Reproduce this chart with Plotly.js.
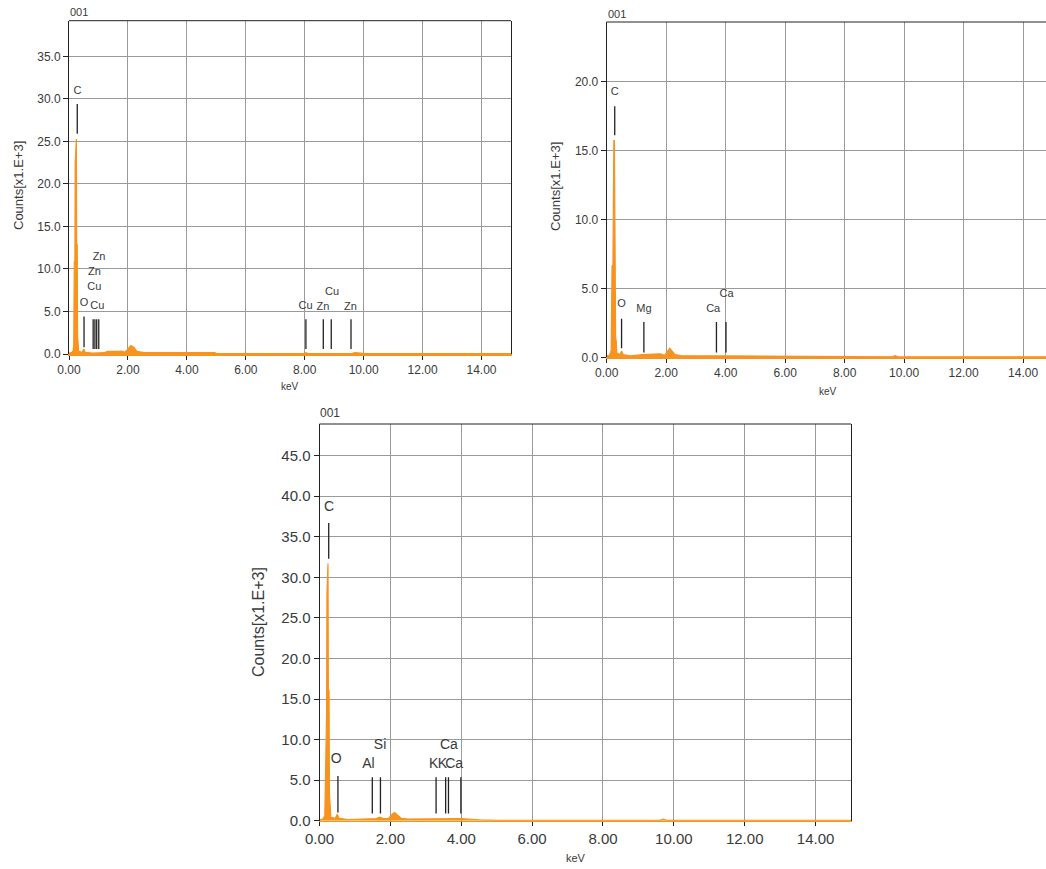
<!DOCTYPE html>
<html>
<head>
<meta charset="utf-8">
<script src="https://cdn.plot.ly/plotly-3.0.1.min.js"></script>
<style>html,body{margin:0;padding:0;background:#fff;overflow:hidden}#chart{width:1046px;height:869px}</style>
</head>
<body>
<div id="chart"></div>
<script>
// ---------- Spectrum 1 (top-left) ----------
const keV1 = [0.00,0.10,0.14,0.16,0.18,0.20,0.21,0.23,0.25,0.26,0.28,0.29,0.31,0.33,0.45,0.50,0.55,0.80,1.20,1.30,1.60,1.80,1.90,2.00,2.10,2.20,2.30,2.50,4.00,4.95,5.00,8.00,8.05,8.10,9.60,9.70,9.90,10.00,15.00];
const cnt1 = [0.10,0.20,0.40,1.00,10.8,11.0,22.5,25.3,25.3,13.0,12.8,2.20,1.50,0.30,0.20,0.60,0.20,0.10,0.15,0.30,0.30,0.35,0.20,0.60,1.00,0.80,0.30,0.20,0.20,0.15,0.05,0.05,0.15,0.05,0.05,0.15,0.10,0.05,0.05];
const lineE1   = [0.28,0.51,0.82,0.88,0.94,1.01,8.04,8.63,8.90,9.57];
const lineTop1 = [29.4,4.4,4.1,4.1,4.1,4.1,4.1,4.1,4.1,4.1];
const lineBot1 = [25.9,0.8,0.6,0.6,0.6,0.6,0.6,0.6,0.6,0.6];
const lab1 = ["C","O","Cu","Cu","Zn","Zn","Cu","Zn","Cu","Zn"];
const labX1 = [0.29,0.51,0.96,0.86,0.86,1.02,8.03,8.62,8.93,9.55];
const labY1 = [30.9,6.0,5.6,7.8,9.6,11.4,5.6,5.5,7.3,5.5];

// ---------- Spectrum 2 (top-right) ----------
const keV2 = [0.00,0.10,0.15,0.18,0.21,0.22,0.24,0.26,0.27,0.29,0.30,0.32,0.34,0.45,0.50,0.55,0.80,1.20,1.80,1.95,2.05,2.12,2.20,2.30,2.50,4.80,5.00,5.50,9.60,9.70,9.80,15.00];
const cnt2 = [0.10,0.15,0.50,6.6,6.7,14.0,15.7,15.7,7.9,7.8,1.4,1.2,0.30,0.20,0.45,0.20,0.10,0.20,0.25,0.15,0.50,0.65,0.45,0.20,0.12,0.10,0.06,0.04,0.04,0.12,0.04,0.04];
const lineE2   = [0.27,0.50,1.25,3.69,4.01];
const lineTop2 = [18.2,2.8,2.55,2.55,2.55];
const lineBot2 = [16.1,0.65,0.35,0.35,0.35];
const lab2 = ["C","O","Mg","Ca","Ca"];
const labX2 = [0.27,0.50,1.25,3.58,4.03];
const labY2 = [19.2,3.86,3.5,3.5,4.6];

// ---------- Spectrum 3 (bottom) ----------
const keV3 = [0.00,0.10,0.15,0.18,0.20,0.21,0.23,0.24,0.25,0.27,0.28,0.30,0.32,0.45,0.50,0.55,0.80,1.60,1.70,1.80,1.95,2.05,2.12,2.20,2.30,2.50,4.00,4.50,4.80,5.00,9.60,9.70,9.80,15.00];
const cnt3 = [0.10,0.20,0.60,13.3,13.3,28.0,31.7,31.7,16.0,16.0,3.4,1.9,0.40,0.30,0.80,0.30,0.15,0.25,0.45,0.25,0.30,0.80,1.00,0.70,0.30,0.20,0.25,0.12,0.08,0.05,0.05,0.20,0.05,0.05];
const lineE3   = [0.26,0.52,1.49,1.72,3.29,3.56,3.64,3.99];
const lineTop3 = [36.7,5.5,5.35,5.35,5.35,5.35,5.35,5.35];
const lineBot3 = [32.3,1.0,0.9,0.9,0.9,0.9,0.9,0.9];
const lab3 = ["C","O","Al","Si","K","K","Ca","Ca"];
const labX3 = [0.27,0.47,1.38,1.71,3.22,3.47,3.80,3.65];
const labY3 = [38.6,7.5,6.95,9.3,6.95,6.95,6.95,9.25];

const ORANGE = '#F7931E';
const FONT = 'Liberation Sans, Arial, sans-serif';
const TXT = '#3a3a3a';

function spectrum(x, y, xa, ya) {
  return {x:x, y:y, xaxis:xa, yaxis:ya, type:'scatter', mode:'lines',
    line:{color:ORANGE, width:1.2}, fill:'tozeroy', fillcolor:ORANGE, hoverinfo:'skip', showlegend:false};
}
function markers(E, top, bot, xa, ya) {
  const xs = [], ys = [];
  for (let i = 0; i < E.length; i++) { xs.push(E[i], E[i], null); ys.push(bot[i], top[i], null); }
  return {x:xs, y:ys, xaxis:xa, yaxis:ya, type:'scatter', mode:'lines',
    line:{color:'#222', width:1.3}, hoverinfo:'skip', showlegend:false, connectgaps:false};
}
function labels(t, x, y, xa, ya, size) {
  return {x:x, y:y, text:t, xaxis:xa, yaxis:ya, type:'scatter', mode:'text',
    textposition:'middle center', textfont:{family:FONT, size:size, color:TXT},
    hoverinfo:'skip', showlegend:false, cliponaxis:false};
}

const data = [
  spectrum(keV1, cnt1, 'x', 'y'), markers(lineE1, lineTop1, lineBot1, 'x', 'y'), labels(lab1, labX1, labY1, 'x', 'y', 11),
  spectrum(keV2, cnt2, 'x2', 'y2'), markers(lineE2, lineTop2, lineBot2, 'x2', 'y2'), labels(lab2, labX2, labY2, 'x2', 'y2', 11),
  spectrum(keV3, cnt3, 'x3', 'y3'), markers(lineE3, lineTop3, lineBot3, 'x3', 'y3'), labels(lab3, labX3, labY3, 'x3', 'y3', 14)
];

function xax(domain, range, anchor, fs) {
  return {domain:domain, range:range, anchor:anchor, dtick:2, tick0:0, tickformat:'.2f',
    showgrid:true, gridcolor:'#9a9a9a', gridwidth:1, zeroline:false,
    showline:true, linecolor:ORANGE, linewidth:1.5, mirror:false,
    ticks:'outside', ticklen:4, tickcolor:'#222', tickfont:{family:FONT, size:fs, color:TXT}, fixedrange:true};
}
function yax(domain, range, anchor, fs) {
  return {domain:domain, range:range, anchor:anchor, dtick:5, tick0:0, tickformat:'.1f',
    showgrid:true, gridcolor:'#9a9a9a', gridwidth:1, zeroline:false,
    showline:true, linecolor:'#222', linewidth:1, mirror:true,
    ticks:'outside', ticklen:5, tickcolor:'#222', tickfont:{family:FONT, size:fs, color:TXT}, fixedrange:true};
}

const W = 1046, H = 869;
const layout = {
  width:W, height:H, margin:{l:0, r:0, t:0, b:0}, paper_bgcolor:'#fff', plot_bgcolor:'#fff', showlegend:false,
  xaxis:  xax([69/W, 511/W], [0, 15], 'y', 12),
  yaxis:  yax([1-354/H, 1-20.7/H], [0, 39.2], 'x', 12),
  xaxis2: xax([606.7/W, 1], [0, 14.77], 'y2', 12),
  yaxis2: yax([1-357.3/H, 1-22/H], [0, 24.3], 'x2', 12),
  xaxis3: xax([319.5/W, 851/W], [0, 15], 'y3', 15),
  yaxis3: yax([1-820.7/H, 1-424/H], [0, 48.9], 'x3', 15),
  shapes: [
    {type:'line', xref:'x domain', yref:'y domain', x0:0, x1:1, y0:1, y1:1, line:{color:'#222', width:1}},
    {type:'line', xref:'x2 domain', yref:'y2 domain', x0:0, x1:1, y0:1, y1:1, line:{color:'#222', width:1}},
    {type:'line', xref:'x3 domain', yref:'y3 domain', x0:0, x1:1, y0:1, y1:1, line:{color:'#222', width:1}}
  ],
  annotations: [
    {text:'001', xref:'paper', yref:'paper', x:68/W, y:1-12/H, xanchor:'left', yanchor:'middle', showarrow:false, font:{family:FONT, size:11, color:TXT}},
    {text:'001', xref:'paper', yref:'paper', x:606/W, y:1-14/H, xanchor:'left', yanchor:'middle', showarrow:false, font:{family:FONT, size:11, color:TXT}},
    {text:'001', xref:'paper', yref:'paper', x:318/W, y:1-413/H, xanchor:'left', yanchor:'middle', showarrow:false, font:{family:FONT, size:12, color:TXT}},
    {text:'Counts[x1.E+3]', xref:'paper', yref:'paper', x:19/W, y:1-186/H, textangle:-90, xanchor:'center', yanchor:'middle', showarrow:false, font:{family:FONT, size:13, color:TXT}},
    {text:'Counts[x1.E+3]', xref:'paper', yref:'paper', x:555/W, y:1-187/H, textangle:-90, xanchor:'center', yanchor:'middle', showarrow:false, font:{family:FONT, size:13, color:TXT}},
    {text:'Counts[x1.E+3]', xref:'paper', yref:'paper', x:258/W, y:1-622/H, textangle:-90, xanchor:'center', yanchor:'middle', showarrow:false, font:{family:FONT, size:16, color:TXT}},
    {text:'keV', xref:'paper', yref:'paper', x:290/W, y:1-386/H, xanchor:'center', yanchor:'middle', showarrow:false, font:{family:FONT, size:10, color:TXT}},
    {text:'keV', xref:'paper', yref:'paper', x:828/W, y:1-391/H, xanchor:'center', yanchor:'middle', showarrow:false, font:{family:FONT, size:10, color:TXT}},
    {text:'keV', xref:'paper', yref:'paper', x:576/W, y:1-858/H, xanchor:'center', yanchor:'middle', showarrow:false, font:{family:FONT, size:11, color:TXT}}
  ]
};

Plotly.newPlot('chart', data, layout, {staticPlot:true, displayModeBar:false});
</script>
</body>
</html>
